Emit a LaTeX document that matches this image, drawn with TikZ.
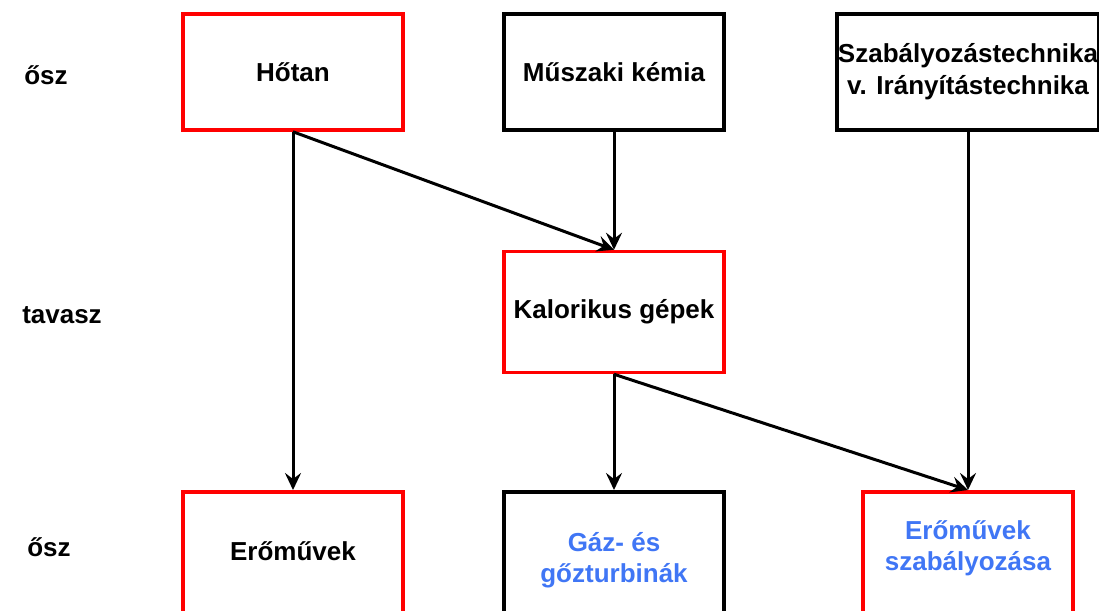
\documentclass[tikz,border=0pt]{standalone}
\usepackage{fontspec}
\setmainfont{Liberation Sans}
\usetikzlibrary{arrows.meta}
\definecolor{boxred}{RGB}{255,0,0}
\definecolor{txtblue}{RGB}{64,118,245}
\begin{document}
\begin{tikzpicture}[x=1pt,y=-1pt,
  box/.style={draw=black,line width=3.5pt,rectangle,minimum width=220pt,minimum height=116pt,align=center,font=\fontsize{26}{33}\selectfont\bfseries,inner sep=0pt},
  redbox/.style={box,draw=boxred},
  lbl/.style={font=\fontsize{26}{31}\selectfont\bfseries},
  arr/.style={line width=3pt,-{Stealth[length=17pt,width=16pt,inset=6pt]}}]
\useasboundingbox (0,0) rectangle (1099,610);
\node[redbox] (hotan) at (293,72) {Hőtan};
\node[box] (muszaki) at (614,72) {Műszaki kémia};
\node[box,minimum width=262pt] (szab) at (968,72) {Szabályozástechnika\\[-1pt]v. Irányítástechnika};
\node[redbox,minimum height=121pt] (kalor) at (614,312) {Kalorikus gépek};
\node[redbox,minimum height=140pt,anchor=north] (eromu) at (293,490) {};
\node[lbl] (eromutxt) at (293,551) {Erőművek};
\node[box,minimum height=140pt,anchor=north] (gaz) at (614,490) {};
\node[lbl,text=txtblue,align=center] (gaztxt) at (614,560) {Gáz- és\\gőzturbinák};
\node[redbox,minimum width=210pt,minimum height=140pt,anchor=north] (eszab) at (968,490) {};
\node[lbl,text=txtblue,align=center] (eszabtxt) at (968,548) {Erőművek\\szabályozása};
\node[lbl] (osz1) at (46,75) {ősz};
\node[lbl] (tavasz) at (62,315) {tavasz};
\node[lbl] (osz2) at (49,547) {ősz};
\draw[arr] (hotan.south) -- (eromu.north);
\draw[arr] (hotan.south) -- (kalor.north);
\draw[arr] (muszaki.south) -- (kalor.north);
\draw[arr] (kalor.south) -- (gaz.north);
\draw[arr] (kalor.south) -- (eszab.north);
\draw[arr] (szab.south) -- (eszab.north);
\end{tikzpicture}
\end{document}
